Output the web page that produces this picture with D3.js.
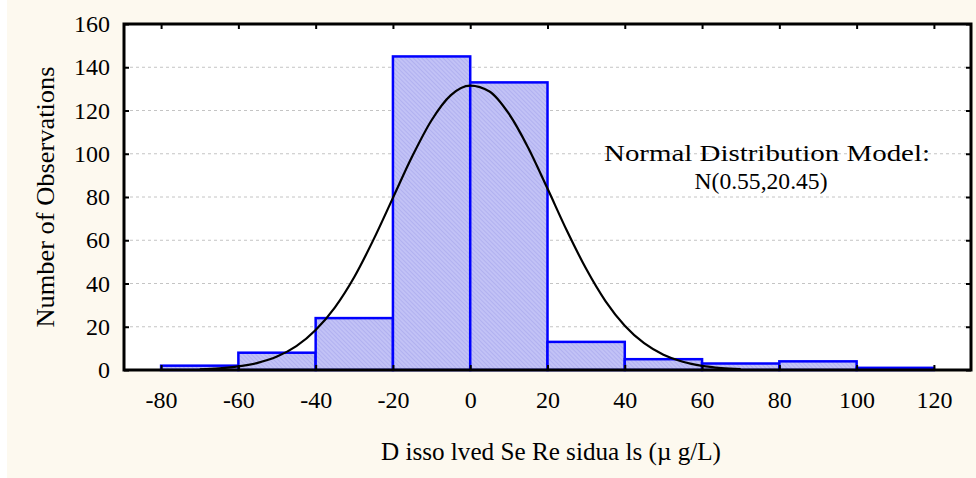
<!DOCTYPE html>
<html>
<head>
<meta charset="utf-8">
<script src="https://cdn.jsdelivr.net/npm/d3@7"></script>
<style>
  body { margin: 0; background: #fff; }
  svg { display: block; }
</style>
</head>
<body>
<svg id="chart"></svg>
<script>
// histogram bins (lower edge) and counts
const binStarts = [-80, -60, -40, -20, 0, 20, 40, 60, 80, 100];
const binWidth = 20;
const counts = [2, 8, 24, 145, 133, 13, 5, 3, 4, 1];

// fitted normal curve
const curveX = [-70, -65, -60, -55, -50, -45, -40, -35, -30, -25, -20, -15, -10, -5, 0, 5, 10, 15, 20, 25, 30, 35, 40, 45, 50, 55, 60, 65, 70];
const curveY = [0.3, 0.8, 1.7, 3.3, 6.2, 11, 18.5, 29, 43, 60.4, 79.6, 98.8, 115.5, 127.1, 131.5, 128.8, 118.5, 102.8, 83.9, 64.5, 46.8, 31.9, 20.5, 12.4, 7.1, 3.8, 1.9, 0.9, 0.4];

const xTicks = [-80, -60, -40, -20, 0, 20, 40, 60, 80, 100, 120];
const yTicks = [0, 20, 40, 60, 80, 100, 120, 140, 160];

const W = 976, H = 478;
const margin = { top: 24, right: 5, bottom: 108, left: 124 };
const width = W - margin.left - margin.right;
const height = H - margin.top - margin.bottom;
const serif = "'Liberation Serif', 'Times New Roman', serif";

const svg = d3.select("#chart")
    .attr("width", W)
    .attr("height", H)
    .attr("viewBox", [0, 0, W, H]);

// hatched fill for the bars
const defs = svg.append("defs");
const pat = defs.append("pattern")
    .attr("id", "hatch")
    .attr("patternUnits", "userSpaceOnUse")
    .attr("width", 3)
    .attr("height", 3)
    .attr("patternTransform", "rotate(-45)");
pat.append("rect").attr("width", 3).attr("height", 3).attr("fill", "#c2c2f6");
pat.append("line")
    .attr("x1", 0).attr("y1", 0).attr("x2", 0).attr("y2", 3)
    .attr("stroke", "#a6a6ec").attr("stroke-width", 1.2);

// cream panel behind the chart
svg.append("rect")
    .attr("x", 7).attr("y", 0)
    .attr("width", W - 7).attr("height", H)
    .attr("fill", "#fdf9ef");

const xScale = d3.scaleLinear().domain([-89.6, 129.6]).range([0, width]);
const yScale = d3.scaleLinear().domain([0, 160]).range([height, 0]);

const g = svg.append("g").attr("transform", `translate(${margin.left},${margin.top})`);

// plot area
g.append("rect")
    .attr("width", width)
    .attr("height", height)
    .attr("fill", "#fff");

// horizontal grid lines
g.selectAll("line.grid_line")
    .data(yTicks.filter(d => d > 0 && d < 160))
    .join("line")
    .attr("class", "grid_line")
    .attr("x1", 0).attr("x2", width)
    .attr("y1", d => yScale(d)).attr("y2", d => yScale(d))
    .attr("stroke", "#c4c4c4")
    .attr("stroke-dasharray", "3,3")
    .attr("stroke-width", 1);

// bars
g.selectAll("rect.bar")
    .data(binStarts.map((s, i) => ({ x0: s, x1: s + binWidth, n: counts[i] })))
    .join("rect")
    .attr("class", "bar")
    .attr("x", d => xScale(d.x0))
    .attr("y", d => yScale(d.n))
    .attr("width", d => xScale(d.x1) - xScale(d.x0))
    .attr("height", d => yScale(0) - yScale(d.n))
    .attr("fill", "url(#hatch)")
    .attr("stroke", "#0000ff")
    .attr("stroke-width", 2.5);

// normal curve
const line = d3.line()
    .x(d => xScale(d[0]))
    .y(d => yScale(d[1]))
    .curve(d3.curveMonotoneX);

g.append("path")
    .attr("fill", "none")
    .attr("stroke", "#000")
    .attr("stroke-width", 2.2)
    .attr("d", line(curveX.map((x, i) => [x, curveY[i]])));

// axes: bottom labels + inward ticks
const xAxis = g.append("g")
    .attr("transform", `translate(0,${height})`)
    .call(d3.axisBottom(xScale).tickValues(xTicks).tickSize(-5).tickPadding(21).tickFormat(d => String(d)));
xAxis.select(".domain").remove();
xAxis.selectAll(".tick line").attr("stroke", "#000").attr("stroke-width", 2);
xAxis.selectAll(".tick text")
    .attr("fill", "#000")
    .style("font-family", serif)
    .style("font-size", "24px");

// top ticks
const xTop = g.append("g")
    .call(d3.axisTop(xScale).tickValues(xTicks).tickSize(-5).tickFormat(""));
xTop.select(".domain").remove();
xTop.selectAll(".tick line").attr("stroke", "#000").attr("stroke-width", 2);

const yAxis = g.append("g")
    .call(d3.axisLeft(yScale).tickValues(yTicks).tickSize(-5).tickPadding(14));
yAxis.select(".domain").remove();
yAxis.selectAll(".tick line").attr("stroke", "#000").attr("stroke-width", 2);
yAxis.selectAll(".tick text")
    .attr("fill", "#000")
    .style("font-family", serif)
    .style("font-size", "24px");

const yRight = g.append("g")
    .attr("transform", `translate(${width},0)`)
    .call(d3.axisRight(yScale).tickValues(yTicks).tickSize(-5).tickFormat(""));
yRight.select(".domain").remove();
yRight.selectAll(".tick line").attr("stroke", "#000").attr("stroke-width", 2);

// frame
g.append("rect")
    .attr("width", width)
    .attr("height", height)
    .attr("fill", "none")
    .attr("stroke", "#000")
    .attr("stroke-width", 3);

// axis titles
svg.append("text")
    .attr("transform", "rotate(-90)")
    .attr("x", -(margin.top + height / 2))
    .attr("y", 54)
    .attr("text-anchor", "middle")
    .attr("textLength", 261)
    .attr("lengthAdjust", "spacingAndGlyphs")
    .style("font-family", serif)
    .style("font-size", "26px")
    .text("Number of Observations");

svg.append("text")
    .attr("x", 551)
    .attr("y", 460)
    .attr("text-anchor", "middle")
    .attr("textLength", 340)
    .attr("lengthAdjust", "spacingAndGlyphs")
    .style("font-family", serif)
    .style("font-size", "25px")
    .text("D isso lved Se Re sidua ls (µ g/L)");

// model annotation
const note = svg.append("text")
    .attr("text-anchor", "middle")
    .style("font-family", serif)
    .style("font-size", "24px");
note.append("tspan")
    .attr("x", 767)
    .attr("y", 161)
    .attr("textLength", 326)
    .attr("lengthAdjust", "spacingAndGlyphs")
    .text("Normal Distribution Model:");
note.append("tspan")
    .attr("x", 761)
    .attr("y", 189)
    .attr("textLength", 133)
    .attr("lengthAdjust", "spacingAndGlyphs")
    .text("N(0.55,20.45)");
</script>
</body>
</html>
